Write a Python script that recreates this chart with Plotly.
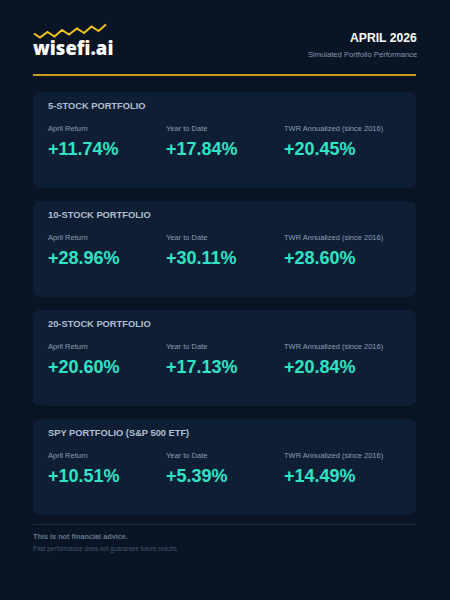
import plotly.graph_objects as go

# -----------------------------------------------------------------------------
# DATI
# -----------------------------------------------------------------------------
portfolios = ['5-STOCK PORTFOLIO', '10-STOCK PORTFOLIO', '20-STOCK PORTFOLIO', 'SPY PORTFOLIO (S&P 500 ETF)']
metric_labels = ['April Return', 'Year to Date', 'TWR Annualized (since 2016)']
april_return = [11.74, 28.96, 20.60, 10.51]
year_to_date = [17.84, 30.11, 17.13, 5.39]
twr_annualized = [20.45, 28.60, 20.84, 14.49]

title_text = 'APRIL 2026'
subtitle_text = 'Simulated Portfolio Performance'
brand = 'wisefi.ai'
disclaimer = 'This is not financial advice.'
disclaimer_sub = 'Past performance does not guarantee future results.'

# colori
BG = '#091424'
CARD = '#0e1f35'
GOLD = '#c99a1c'
LOGO_GOLD = '#f0c21e'
TEAL = '#2fe3c4'
FONT = 'Liberation Sans, Arial, sans-serif'

# -----------------------------------------------------------------------------
# FUNZIONI
# -----------------------------------------------------------------------------

def rounded_rect(x0, y0, x1, y1, r):
    # path di un rettangolo con angoli arrotondati (coordinate in pixel)
    return (f'M {x0+r},{y0} L {x1-r},{y0} Q {x1},{y0} {x1},{y0+r} '
            f'L {x1},{y1-r} Q {x1},{y1} {x1-r},{y1} L {x0+r},{y1} '
            f'Q {x0},{y1} {x0},{y1-r} L {x0},{y0+r} Q {x0},{y0} {x0+r},{y0} Z')

def fmt(v):
    return ('+' if v >= 0 else '') + f'{v:.2f}%'

def text(x, y, s, size, color, anchor='left', bold=False, family=FONT, weight=None):
    if bold:
        s = '<b>' + s + '</b>'
    f = dict(size=size, color=color, family=family)
    if weight:
        f['weight'] = weight
    fig.add_annotation(x=x, y=y, text=s, showarrow=False,
                       xanchor=anchor, yanchor='middle',
                       borderpad=0, borderwidth=0, font=f)

# -----------------------------------------------------------------------------
# PLOT
# -----------------------------------------------------------------------------
fig = go.Figure()
fig.update_layout(width=450, height=600,
                  margin=dict(l=0, r=0, t=0, b=0),
                  paper_bgcolor=BG, plot_bgcolor=BG,
                  showlegend=False)
fig.update_xaxes(range=[0, 450], visible=False, fixedrange=True)
fig.update_yaxes(range=[600, 0], visible=False, fixedrange=True)

# logo
zig = [(34, 33.5), (40, 37.5), (47.5, 32), (54.5, 36.5), (62, 30), (69, 34.5),
       (77, 28.5), (84, 33), (91.5, 26.5), (98.5, 31), (106, 24.5)]
fig.add_shape(type='path', xref='x', yref='y',
              path='M ' + ' L '.join(f'{x},{y}' for x, y in zig),
              line=dict(color=LOGO_GOLD, width=2))
text(33, 47.5, brand, 18.5, 'white', family='Open Sans, sans-serif', weight=800)

# intestazione
text(416.5, 38, title_text, 12.2, 'white', anchor='right', bold=True)
text(416.5, 54.5, subtitle_text, 7.6, '#8898ae', anchor='right')
fig.add_shape(type='line', xref='x', yref='y', x0=33, x1=416, y0=75, y1=75,
              line=dict(color=GOLD, width=2))

# schede
col_x = [48, 166, 284]
for i, name in enumerate(portfolios):
    top = 92 + i * 109
    fig.add_shape(type='path', xref='x', yref='y',
                  path=rounded_rect(33, top, 416, top + 96, 8),
                  fillcolor=CARD, line=dict(width=0), layer='below')
    text(48, top + 13.5, name, 9.3, '#b2bfcf', bold=True)
    values = [april_return[i], year_to_date[i], twr_annualized[i]]
    for j, lab in enumerate(metric_labels):
        text(col_x[j], top + 36.5, lab, 7.5, '#8d9cb1')
        text(col_x[j] - 0.5, top + 56.5, fmt(values[j]), 18, TEAL, bold=True)

# piè di pagina
fig.add_shape(type='line', xref='x', yref='y', x0=33, x1=416, y0=524.5, y1=524.5,
              line=dict(color='#1a2a40', width=1))
text(33, 536, disclaimer, 7.3, '#63798f', bold=True)
text(33, 548.5, disclaimer_sub, 6.3, '#44586f')

fig.write_html('out.html', config={'displayModeBar': False},
               post_script="document.body.style.margin='0';"
                           "document.body.style.background='" + BG + "';")
